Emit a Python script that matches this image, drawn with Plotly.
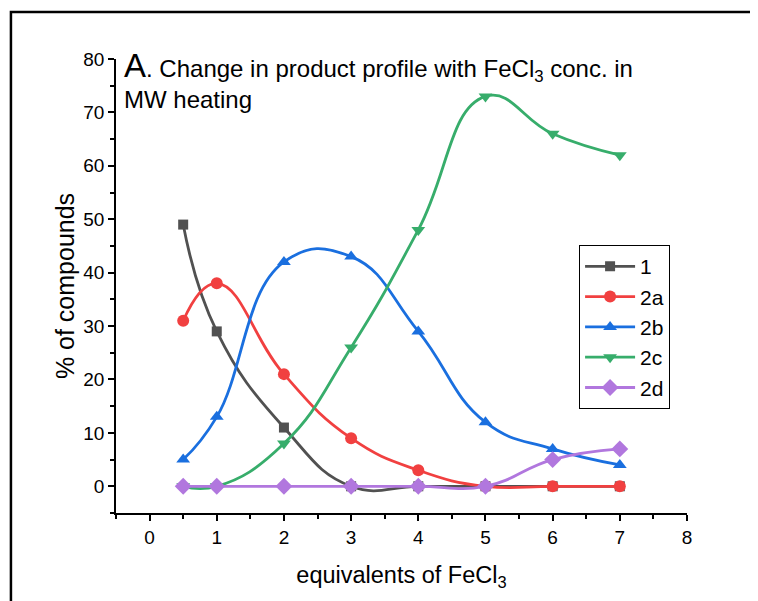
import plotly.graph_objects as go

x_vals = [0.5, 1, 2, 3, 4, 5, 6, 7]
s_1 = [49, 29, 11, 0, 0, 0, 0, 0]
s_2a = [31, 38, 21, 9, 3, 0, 0, 0]
s_2b = [5, 13, 42, 43, 29, 12, 7, 4]
s_2c = [0, 0, 8, 26, 48, 73, 66, 62]
s_2d = [0, 0, 0, 0, 0, 0, 5, 7]

names = ["1", "2a", "2b", "2c", "2d"]
series = [s_1, s_2a, s_2b, s_2c, s_2d]
colors = ["#515151", "#F14040", "#1A6FDF", "#37AD6B", "#B177DE"]
symbols = ["square", "circle", "triangle-up", "triangle-down", "diamond"]
msizes = [10, 12, 12, 12, 13]

FONT = "Arial, Liberation Sans, sans-serif"

fig = go.Figure()
for n, s, c, sym, ms in zip(names, series, colors, symbols, msizes):
    fig.add_trace(go.Scatter(
        x=x_vals, y=s, name=n, mode="lines+markers",
        line=dict(color=c, width=2.8, shape="spline", smoothing=1.3),
        marker=dict(symbol=sym, size=ms, color=c),
    ))

fig.update_layout(
    width=758, height=601,
    margin=dict(l=108, r=79, t=51, b=96),
    plot_bgcolor="white", paper_bgcolor="white",
    font=dict(family=FONT, color="black", size=19),
    showlegend=True,
    legend=dict(
        x=0.811, y=0.59, xanchor="left", yanchor="top",
        bordercolor="black", borderwidth=1, bgcolor="white",
        font=dict(size=21, family=FONT), tracegroupgap=0,
        itemwidth=50,
    ),
    xaxis=dict(
        range=[-0.5, 8], tickvals=[0, 1, 2, 3, 4, 5, 6, 7, 8],
        showgrid=False, zeroline=False, showline=True, linecolor="black", linewidth=1.5,
        ticks="outside", ticklen=6, tickwidth=1.5, tickcolor="black",
        minor=dict(dtick=0.5, ticks="outside", ticklen=4, tickwidth=1.5, tickcolor="black", showgrid=False),
        tickfont=dict(size=19, family=FONT),
        title=dict(text="equivalents of FeCl<sub>3</sub>", font=dict(size=23.5, family=FONT), standoff=20),
    ),
    yaxis=dict(
        range=[-5, 80], tickvals=[0, 10, 20, 30, 40, 50, 60, 70, 80],
        showgrid=False, zeroline=False, showline=True, linecolor="black", linewidth=1.5,
        ticks="outside", ticklen=6, tickwidth=1.5, tickcolor="black",
        minor=dict(dtick=5, ticks="outside", ticklen=4, tickwidth=1.5, tickcolor="black", showgrid=False),
        tickfont=dict(size=19, family=FONT),
        title=dict(text="% of compounds", font=dict(size=25, family=FONT), standoff=2),
    ),
)

fig.add_annotation(
    xref="paper", yref="paper", x=0.01, y=1.03, xanchor="left", yanchor="top",
    align="left", showarrow=False,
    text="<span style='font-size:33px'>A</span>. Change in product profile with FeCl<sub>3</sub> conc. in<br>MW heating",
    font=dict(size=24, family=FONT, color="black"),
)

# outer frame around the figure
fig.add_shape(type="rect", xref="paper", yref="paper",
              x0=-0.184, x1=1.25, y0=-0.3, y1=1.1035,
              line=dict(color="black", width=2.5), layer="above")

fig.write_html("out.html")
